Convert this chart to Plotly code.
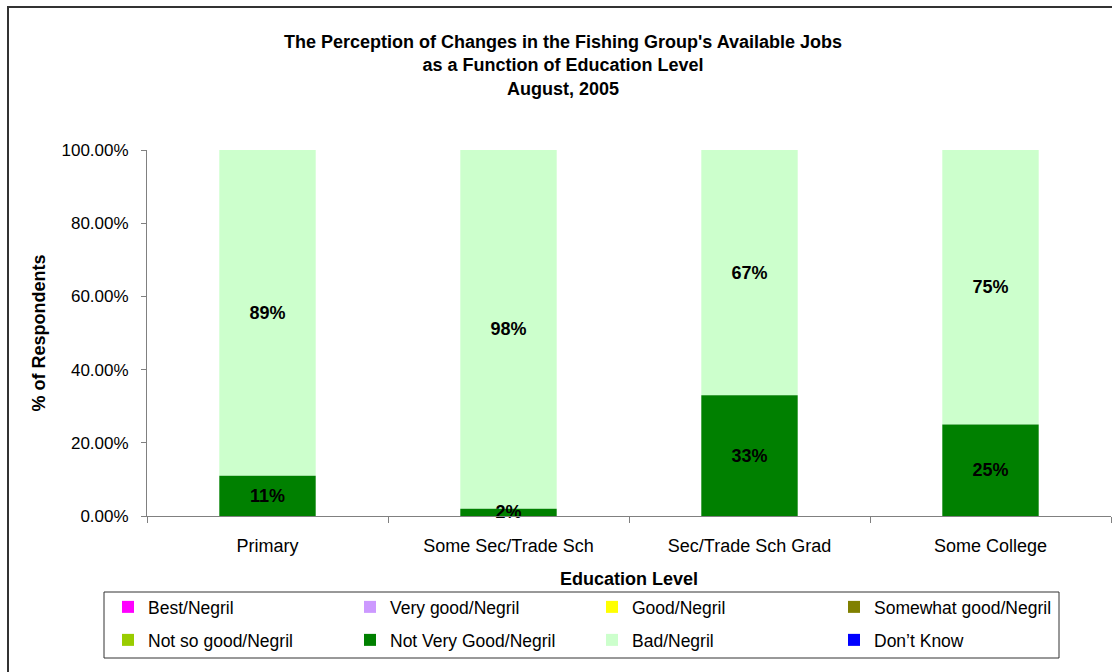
import plotly.graph_objects as go

categories = ["Primary", "Some Sec/Trade Sch", "Sec/Trade Sch Grad", "Some College"]
series_names = ["Best/Negril", "Very good/Negril", "Good/Negril", "Somewhat good/Negril",
                "Not so good/Negril", "Not Very Good/Negril", "Bad/Negril", "Don\u2019t Know"]
series_colors = ["#FF00FF", "#CC99FF", "#FFFF00", "#808000",
                 "#99CC00", "#008000", "#CCFFCC", "#0000FF"]
best = [0, 0, 0, 0]
very_good = [0, 0, 0, 0]
good = [0, 0, 0, 0]
somewhat_good = [0, 0, 0, 0]
not_so_good = [0, 0, 0, 0]
not_very_good = [0.11, 0.02, 0.33, 0.25]
bad = [0.89, 0.98, 0.67, 0.75]
dont_know = [0, 0, 0, 0]
series_values = [best, very_good, good, somewhat_good, not_so_good, not_very_good, bad, dont_know]
# stacked: "Bad/Negril" sits on top of "Not Very Good/Negril"
series_base = [None, None, None, None, None, None, not_very_good, None]
labelled = {"Not Very Good/Negril", "Bad/Negril"}
y_ticks = [0, 0.2, 0.4, 0.6, 0.8, 1.0]

FONT = "Liberation Sans, Arial, sans-serif"

# plot-area geometry in pixels (for converting decorations to paper coords)
L, R, T, B = 147, 1, 150, 156
W, H = 1112, 672
PW, PH = W - L - R, H - T - B


def px_x(p):
    return (p - L) / PW


def px_y(p):
    return (H - B - p) / PH


# draw order: labelled dark segment last so its label is never covered
draw_order = [0, 1, 2, 3, 4, 7, 6, 5]

fig = go.Figure()
for i in draw_order:
    name, color, vals, base = series_names[i], series_colors[i], series_values[i], series_base[i]
    show_text = name in labelled
    fig.add_trace(go.Bar(
        x=categories, y=vals, base=base, name=name,
        marker=dict(color=color, line=dict(width=0)),
        text=[f"{round(v*100)}%" for v in vals] if show_text else None,
        textposition="inside" if show_text else "none",
        insidetextanchor="middle",
        constraintext="none",
        textangle=0,
        cliponaxis=False,
        textfont=dict(family=FONT, size=18, color="black", weight="bold"),
        legend="legend" if i < 4 else "legend2",
        legendrank=i + 1,
        hoverinfo="skip",
    ))

legend_common = dict(
    orientation="h", entrywidth=197, entrywidthmode="pixels", traceorder="normal",
    font=dict(family=FONT, size=17.5, color="black"),
    bgcolor="rgba(0,0,0,0)", borderwidth=0,
    xanchor="left", yanchor="middle", itemclick=False, itemdoubleclick=False,
)

fig.update_layout(
    width=W, height=H,
    margin=dict(l=L, r=R, t=T, b=B),
    paper_bgcolor="white", plot_bgcolor="white",
    barmode="overlay", bargap=0.6,
    font=dict(family=FONT, color="black"),
    title=dict(
        text="The Perception of Changes in the Fishing Group's Available Jobs<br>as a Function of Education Level<br>August, 2005",
        font=dict(family=FONT, size=18, color="black", weight="bold"),
        xref="container", x=563 / W, xanchor="center",
        yref="container", y=1 - 48 / H, yanchor="top",
    ),
    xaxis=dict(
        type="category", tickson="boundaries", ticks="outside", ticklen=6,
        tickcolor="#808080", showline=True, linecolor="#808080", linewidth=1,
        showgrid=False, zeroline=False,
        tickfont=dict(family=FONT, size=18, color="black"),
        ticklabelstandoff=13,
        title=dict(text="Education Level", standoff=17,
                   font=dict(family=FONT, size=18, color="black", weight="bold")),
        automargin=False,
    ),
    yaxis=dict(
        range=[0, 1], tickvals=y_ticks, tickformat=".2%", ticks="outside", ticklen=5,
        tickcolor="#808080", showline=True, linecolor="#808080", linewidth=1,
        showgrid=False, zeroline=False,
        tickfont=dict(family=FONT, size=17, color="black"),
        ticklabelstandoff=9,
        title=dict(text="% of Respondents", standoff=11,
                   font=dict(family=FONT, size=18, color="black", weight="bold")),
        automargin=False,
    ),
    legend=dict(x=px_x(108), y=px_y(607), **legend_common),
    legend2=dict(x=px_x(108), y=px_y(640), **legend_common),
    shapes=[
        dict(type="rect", xref="paper", yref="paper",
             x0=px_x(8), x1=px_x(1130), y0=px_y(7), y1=px_y(700),
             line=dict(color="#333333", width=2), fillcolor="rgba(0,0,0,0)", layer="above"),
        dict(type="rect", xref="paper", yref="paper",
             x0=px_x(104), x1=px_x(1059), y0=px_y(592), y1=px_y(658),
             line=dict(color="#333333", width=1), fillcolor="rgba(0,0,0,0)", layer="above"),
    ],
)

fig.write_html(
    "out.html",
    config={"displayModeBar": False},
    post_script="document.body.style.margin='0';document.body.style.overflow='hidden';",
)
